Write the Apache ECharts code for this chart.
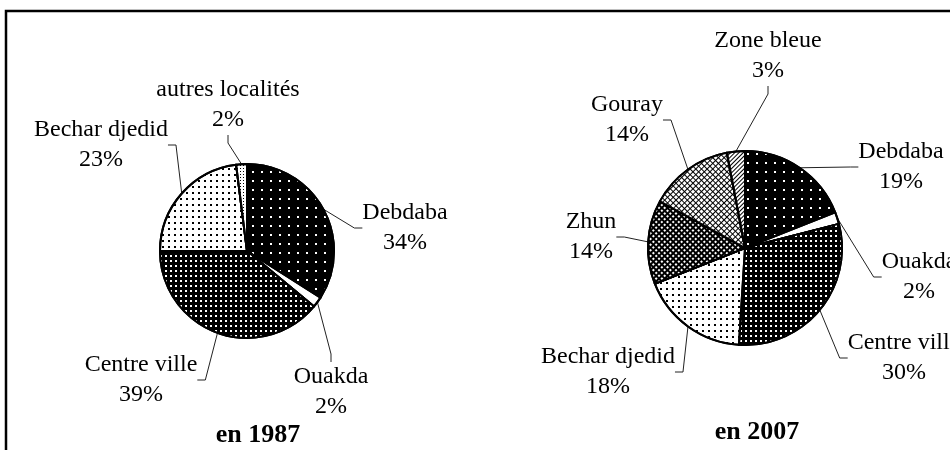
<!DOCTYPE html>
<html>
<head>
<meta charset="utf-8">
<script src="https://cdn.jsdelivr.net/npm/echarts@6/dist/echarts.min.js"></script>
<style>
  html, body { margin: 0; padding: 0; background: #fff; }
  #chart { width: 950px; height: 450px; }
</style>
</head>
<body>
<div id="chart"></div>
<script>
// données
const names1987 = ['Debdaba', 'Ouakda', 'Centre ville', 'Bechar djedid', 'autres localités'];
const values1987 = [34, 2, 39, 23, 2];
const names2007 = ['Debdaba', 'Ouakda', 'Centre ville', 'Bechar djedid', 'Zhun', 'Gouray', 'Zone bleue'];
const values2007 = [19, 2, 30, 18, 14, 14, 3];
const yearLabels = ['en 1987', 'en 2007'];

// position (centre) des étiquettes, par nom
const labelPos1987 = {
  'Debdaba': [405, 228],
  'Ouakda': [331, 392],
  'Centre ville': [141, 380],
  'Bechar djedid': [101, 145],
  'autres localités': [228, 105]
};
const labelPos2007 = {
  'Debdaba': [901, 167],
  'Ouakda': [919, 277],
  'Centre ville': [904, 358],
  'Bechar djedid': [608, 372],
  'Zhun': [591, 237],
  'Gouray': [627, 120],
  'Zone bleue': [768, 56]
};

// motifs noir et blanc
const patterns = {
  'Debdaba': { color: '#000', decal: { symbol: 'rect', symbolSize: 1, color: '#fff', dashArrayX: [2, 7], dashArrayY: [2, 7] } },
  'Ouakda': { color: '#fff', decal: { symbol: 'none', dashArrayX: [1, 0], dashArrayY: [1, 0], color: 'rgba(0,0,0,0)' } },
  'Centre ville': { color: '#000', decal: { symbol: 'rect', symbolSize: 1, color: '#fff', dashArrayX: [2, 3], dashArrayY: [2, 3] } },
  'Bechar djedid': { color: '#fff', decal: { symbol: 'rect', symbolSize: 1, color: '#000', dashArrayX: [2, 4], dashArrayY: [2, 4] } },
  'autres localités': { color: '#fff', decal: { symbol: 'rect', symbolSize: 1, color: '#000', dashArrayX: [1, 2], dashArrayY: [1, 2] } },
  'Zhun': { color: '#000', decal: { symbol: 'rect', symbolSize: 1, color: '#fff', dashArrayX: [2, 2], dashArrayY: [2, 2], rotation: Math.PI / 4 } },
  'Gouray': { color: '#000', decal: { symbol: 'rect', symbolSize: 1, color: '#fff', dashArrayX: [3, 1], dashArrayY: [3, 1], rotation: Math.PI / 4 } },
  'Zone bleue': { color: '#fff', decal: { symbol: 'rect', symbolSize: 1, color: '#000', dashArrayX: [1, 0], dashArrayY: [1, 2], rotation: -Math.PI / 4 } }
};

const font = 'Liberation Serif';

function buildData(names, values) {
  return names.map((n, i) => ({
    name: n,
    value: values[i],
    itemStyle: { color: patterns[n].color, decal: patterns[n].decal }
  }));
}

function createSeries(names, values, center, radius, posMap) {
  return {
    type: 'pie',
    center: center,
    radius: radius,
    startAngle: 90,
    clockwise: true,
    avoidLabelOverlap: false,
    animation: false,
    itemStyle: { borderColor: '#000', borderWidth: 2 },
    label: {
      show: true,
      position: 'outside',
      formatter: '{b}\n{c}%',
      fontFamily: font,
      fontSize: 24,
      lineHeight: 30,
      color: '#000',
      align: 'center'
    },
    labelLine: {
      show: true,
      length: 15,
      length2: 8,
      lineStyle: { color: '#222', width: 1 }
    },
    labelLayout: function (params) {
      const p = posMap[names[params.dataIndex]];
      return { x: p[0], y: p[1], align: 'center', verticalAlign: 'middle' };
    },
    data: buildData(names, values)
  };
}

const option = {
  backgroundColor: '#fff',
  series: [
    createSeries(names1987, values1987, [247, 251], 87, labelPos1987),
    createSeries(names2007, values2007, [745, 248], 97, labelPos2007)
  ],
  graphic: [
    {
      type: 'rect',
      shape: { x: 6, y: 11, width: 980, height: 480 },
      style: { fill: 'none', stroke: '#000', lineWidth: 2.5 }
    },
    {
      type: 'text', x: 258, y: 435,
      style: { text: yearLabels[0], font: 'bold 26px "Liberation Serif"', fill: '#000', align: 'center', verticalAlign: 'middle' }
    },
    {
      type: 'text', x: 757, y: 432,
      style: { text: yearLabels[1], font: 'bold 26px "Liberation Serif"', fill: '#000', align: 'center', verticalAlign: 'middle' }
    }
  ]
};

const myChart = echarts.init(document.getElementById('chart'));
myChart.setOption(option);
</script>
</body>
</html>
